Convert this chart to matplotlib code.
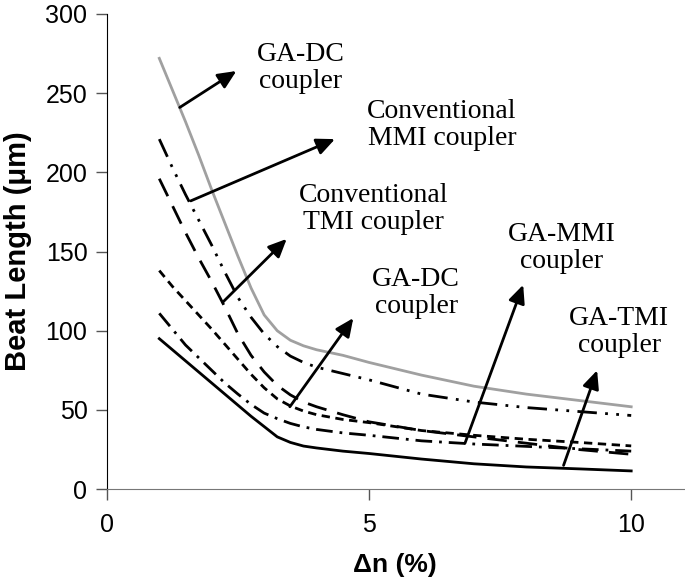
import matplotlib
matplotlib.use("Agg")
import matplotlib.pyplot as plt

plt.rcParams['font.family'] = ['Liberation Sans', 'DejaVu Sans']
plt.rcParams['lines.scale_dashes'] = False

# Delta n (%) and beat lengths (um)
dn = [1, 1.25, 1.5, 1.75, 2, 2.25, 2.5, 2.75, 3, 3.25, 3.5, 3.75, 4, 4.5, 5, 6, 7, 8, 9, 10]
gray_line = [272, 252, 232, 211, 189, 168, 147, 127, 110, 100, 94, 90.5, 88, 84.5, 80, 72, 65, 60, 56, 52]
dash_dot_dot = [221, 203, 186, 170, 154, 137, 121, 108.5, 98, 90, 84, 80, 77, 73, 69, 60, 55, 51.5, 49, 46.5]
long_dash = [196, 179, 162, 146, 131, 115, 98, 84.5, 74, 65.5, 59.5, 55, 52, 47, 42.5, 37, 33, 29, 25, 22]
short_dash = [138, 128, 119, 110, 101, 91.5, 82, 72.5, 64, 57, 52.5, 49.3, 47, 44, 42, 37, 34, 31.5, 29.5, 27.3]
dash_dot = [111, 101, 91, 83, 75, 67, 60, 53.5, 48, 44.5, 41.5, 39.3, 37.7, 35.5, 34, 30.5, 28.5, 27, 25.5, 24]
solid = [95, 88, 81, 74, 67, 60, 53, 46, 39.5, 33, 29.5, 27.2, 26, 24, 22.5, 19, 16, 14, 12.8, 11.5]

# annotation labels: text, text centre, arrow tail, arrow head
labels = ["GA-DC\ncoupler", "Conventional\nMMI coupler", "Conventional\nTMI coupler",
          "GA-DC\ncoupler", "GA-MMI\ncoupler", "GA-TMI\ncoupler"]
label_xy = [(3.7, 266), (6.39, 230), (5.08, 177), (5.9, 124), (8.68, 152), (9.77, 99)]
tails = [(1.39, 241), (1.6, 182), (2.21, 118), (3.49, 52), (6.83, 29), (8.71, 15)]
heads = [(2.47, 264), (4.35, 221), (3.43, 158), (4.7, 108), (7.94, 129), (9.35, 75)]

fig = plt.figure(figsize=(6.85, 5.83), dpi=100)
ax = fig.add_axes([0.156, 0.161, 0.842, 0.815])

ax.plot(dn, gray_line, color='#a0a0a0', lw=2.0)
ax.plot(dn, dash_dot_dot, color='black', lw=2.0, dashes=(14, 6, 2, 6, 2, 6))
ax.plot(dn, long_dash, color='black', lw=2.0, dashes=(14, 8))
ax.plot(dn, short_dash, color='black', lw=2.0, dashes=(6, 4))
ax.plot(dn, dash_dot, color='black', lw=2.0, dashes=(12, 5, 2, 5))
ax.plot(dn, solid, color='black', lw=2.0)

for txt, pos, t, h in zip(labels, label_xy, tails, heads):
    ax.annotate('', xy=h, xytext=t,
                arrowprops=dict(arrowstyle='-|>,head_length=0.55,head_width=0.25',
                                mutation_scale=20, lw=2, color='black',
                                shrinkA=0, shrinkB=0))
    ax.text(pos[0], pos[1], txt, family='Liberation Serif', fontsize=20,
            ha='center', va='center', linespacing=1.1)

ax.set_xlim(0, 11)
ax.set_ylim(0, 300)
ax.set_xticks([0, 5, 10])
ax.set_yticks(range(0, 301, 50))
ax.tick_params(labelsize=18, length=8, width=1, direction='out', color='#555555', pad=6)
ax.tick_params(axis='x', pad=9)
ax.spines['top'].set_visible(False)
ax.spines['right'].set_visible(False)
ax.spines['bottom'].set_color('#777777')
ax.spines['left'].set_color('black')

ax.set_xlabel('Δn (%)', fontsize=19, fontweight='bold', labelpad=12)
ax.set_ylabel('Beat Length (μm)', fontsize=21, fontweight='bold', labelpad=10)

fig.savefig('out.png', dpi=100)
